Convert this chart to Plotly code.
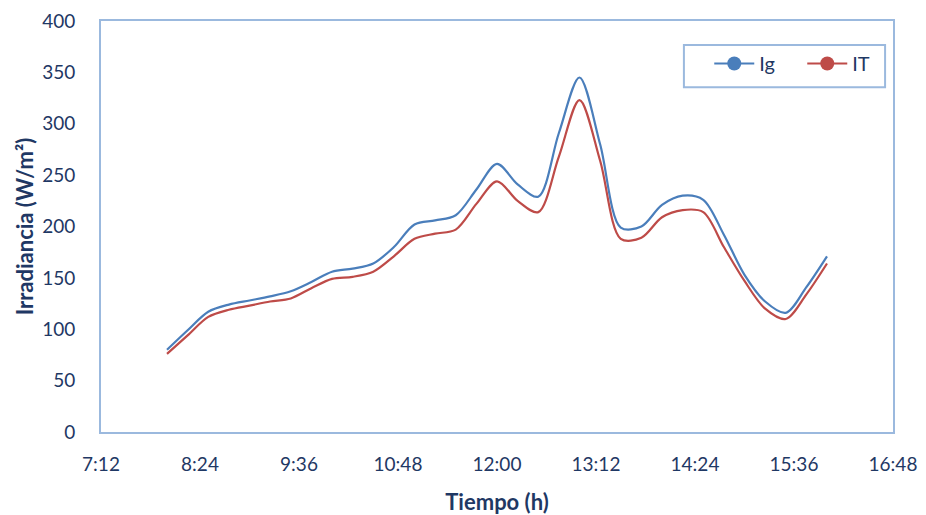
import plotly.graph_objects as go

times = ["08:00","08:15","08:30","08:45","09:00","09:15","09:30","09:45",
         "10:00","10:15","10:30","10:45","11:00","11:15","11:30","11:45",
         "12:00","12:15","12:30","12:45","13:00","13:15","13:30","13:45",
         "14:00","14:15","14:30","14:45","15:00","15:15","15:30","15:45","16:00"]
Ig = [80, 99, 117, 124, 128, 132, 137, 146,
      156, 159, 164, 180, 202, 206, 211, 236,
      261, 241, 229, 291, 345, 280, 199, 200,
      221, 230, 226, 192, 153, 127, 116, 141, 171]
IT = [76, 94, 112, 119, 123, 127, 130, 140,
      149, 151, 156, 171, 188, 193, 197, 222,
      244, 225, 214, 268, 323, 264, 188, 189,
      209, 216, 214, 180, 147, 120, 110, 134, 164]
y_ticks = [0, 50, 100, 150, 200, 250, 300, 350, 400]

x = ["2020-01-01 " + t for t in times]
blue = "#4a7ebb"
red = "#be4b48"
txt = "#1f3864"
border = "#9bb9de"

fig = go.Figure()
fig.add_trace(go.Scatter(x=x, y=Ig, mode="lines", line=dict(color=blue, width=2.2, shape="spline", smoothing=0.9),
                         name="Ig", showlegend=False))
fig.add_trace(go.Scatter(x=x, y=IT, mode="lines", line=dict(color=red, width=2.2, shape="spline", smoothing=0.9),
                         name="IT", showlegend=False))
fig.add_trace(go.Scatter(x=[None], y=[None], mode="lines+markers", line=dict(color=blue, width=2),
                         marker=dict(color=blue, size=14), name="Ig"))
fig.add_trace(go.Scatter(x=[None], y=[None], mode="lines+markers", line=dict(color=red, width=2),
                         marker=dict(color=red, size=14), name="IT"))

# legend frame
fig.add_shape(type="rect", xref="paper", yref="paper", x0=0.736, x1=0.990, y0=0.839, y1=0.9416,
              line=dict(color=border, width=2), fillcolor="rgba(0,0,0,0)")

fig.update_layout(
    width=926, height=515,
    margin=dict(l=101, r=33, t=21, b=83, autoexpand=False),
    paper_bgcolor="white", plot_bgcolor="white",
    font=dict(family="Lato", size=19, color=txt),
    showlegend=True,
    legend=dict(orientation="h", x=0.768, y=0.944, xanchor="left", yanchor="top",
                borderwidth=0, bgcolor="rgba(0,0,0,0)",
                font=dict(size=20, color=txt), itemwidth=40,
                entrywidth=38),
    xaxis=dict(type="date", range=["2020-01-01 07:12", "2020-01-01 16:48"],
               tick0="2020-01-01 07:12", dtick=72*60*1000, tickformat="%-H:%M",
               showgrid=False, zeroline=False, showline=True, linecolor=border, linewidth=2,
               mirror=True, ticks="outside", ticklen=14, tickcolor="rgba(0,0,0,0)",
               title=dict(text="<b>Tiempo (h)</b>", standoff=22,
               font=dict(size=22, color=txt))),
    yaxis=dict(range=[0, 400], tickvals=y_ticks, showgrid=False, zeroline=False,
               showline=True, linecolor=border, linewidth=2, mirror=True,
               ticks="outside", ticklen=20, tickcolor="rgba(0,0,0,0)",
               title=dict(text="<b>Irradiancia (W/m²)</b>", standoff=2,
               font=dict(size=22, color=txt))),
)
fig.write_html("out.html", post_script="document.body.style.margin='0';",
               config={"displayModeBar": False})
